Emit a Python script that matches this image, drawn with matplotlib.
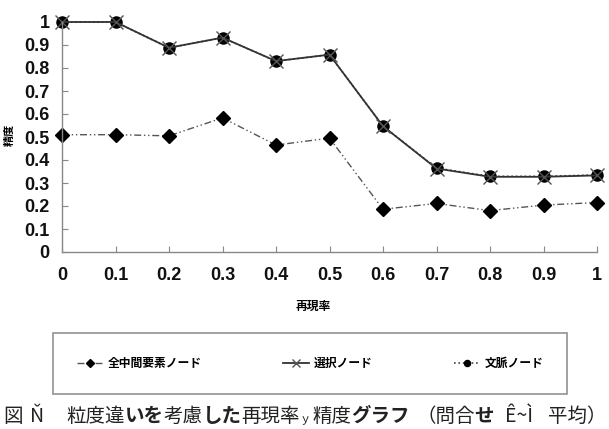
import matplotlib
matplotlib.use('Agg')
import matplotlib.pyplot as plt
import numpy as np

plt.rcParams['font.family'] = ['Noto Sans CJK JP', 'DejaVu Sans']

# Data
recall = [0.0, 0.1, 0.2, 0.3, 0.4, 0.5, 0.6, 0.7, 0.8, 0.9, 1.0]
all_nodes = [0.51, 0.51, 0.505, 0.583, 0.465, 0.495, 0.186, 0.211, 0.180, 0.204, 0.215]
selected = [1.0, 1.0, 0.888, 0.932, 0.830, 0.858, 0.547, 0.363, 0.327, 0.327, 0.333]
context = [1.0, 1.0, 0.888, 0.932, 0.830, 0.858, 0.547, 0.365, 0.329, 0.329, 0.335]
labels = ['全中間要素ノード', '選択ノード', '文脈ノード']
ticks = [0, 0.1, 0.2, 0.3, 0.4, 0.5, 0.6, 0.7, 0.8, 0.9, 1]
tick_labels = ['0', '0.1', '0.2', '0.3', '0.4', '0.5', '0.6', '0.7', '0.8', '0.9', '1']

W, H = 609, 429
fig = plt.figure(figsize=(W / 100, H / 100), dpi=100)
ax = fig.add_axes([62 / W, 1 - 252 / H, (597 - 62) / W, (252 - 22) / H])

l1, = ax.plot(recall, all_nodes, color='#555555', lw=1.0,
              linestyle=(0, (5, 2, 1, 2, 1, 2)), marker='D', markersize=7,
              markerfacecolor='black', markeredgecolor='black', clip_on=False)
l3, = ax.plot(recall, context, color='#444444', lw=1.2, linestyle=':',
              marker='o', markersize=8, markerfacecolor='black',
              markeredgecolor='black', clip_on=False)
l2, = ax.plot(recall, selected, color='#333333', lw=1.3, linestyle='-',
              marker='x', markersize=10, markeredgewidth=1.0,
              markeredgecolor='#555555', clip_on=False)

ax.set_xlim(0, 1)
ax.set_ylim(0, 1)
ax.set_xticks(ticks)
ax.set_xticklabels(tick_labels)
ax.set_yticks(ticks)
ax.set_yticklabels(tick_labels)

for s in ['top', 'right']:
    ax.spines[s].set_visible(False)
for s in ['left', 'bottom']:
    ax.spines[s].set_color('#888888')
    ax.spines[s].set_linewidth(1.0)

ax.tick_params(axis='both', direction='in', length=4, color='#888888',
               labelsize=13, labelcolor='#111111')
ax.tick_params(axis='y', pad=9)
ax.tick_params(axis='x', pad=11)
for lab in ax.get_xticklabels() + ax.get_yticklabels():
    lab.set_family(['Liberation Sans', 'DejaVu Sans'])
    lab.set_fontweight('bold')

ax.set_xlabel('再現率', fontsize=8.5, fontweight='bold')
ax.xaxis.set_label_coords((313 - 62) / (597 - 62), -(300 - 252) / (252 - 22))
fig.text(9 / W, 1 - 135 / H, '精度', rotation=90, fontsize=8, fontweight='bold',
         ha='center', va='center')

leg = fig.legend([l1, l2, l3], labels, loc='center', ncol=3, mode='expand',
                 bbox_to_anchor=(53 / W, 1 - 395 / H, (567 - 53) / W, (395 - 332) / H),
                 frameon=True, fancybox=False, edgecolor='#777777',
                 borderpad=2.0, borderaxespad=0, handlelength=2.2, handletextpad=0.4,
                 markerscale=0.55, prop={'weight': 'bold', 'size': 8.5})
leg.get_frame().set_linewidth(1.2)

# Caption: groups start at a pixel x, the pieces inside a group follow each other
caption = [
    (3, [('図', False)]),
    (30, [('Ň', False)]),
    (66, [('粒度違', False), ('いを', True), ('考慮', False), ('した', True),
          ('再現率', False), ('ｙ', False)]),
    (312, [('精度', False), ('グラフ', True)]),
    (416, [('（問合', False), ('せ', True)]),
    (505, [('Ê~Ì', False)]),
    (548, [('平均）', False)]),
]
r = fig.canvas.get_renderer()
y_base = 1 - 422 / H
for x0, pieces in caption:
    x = x0
    for txt, bold in pieces:
        t = fig.text(x / W, y_base, txt, fontsize=8 if txt == 'ｙ' else 14,
                     ha='left', va='baseline', color='#222222',
                     fontweight='bold' if bold else 'normal')
        x = t.get_window_extent(renderer=r).x1

fig.savefig('out.png', dpi=100)
